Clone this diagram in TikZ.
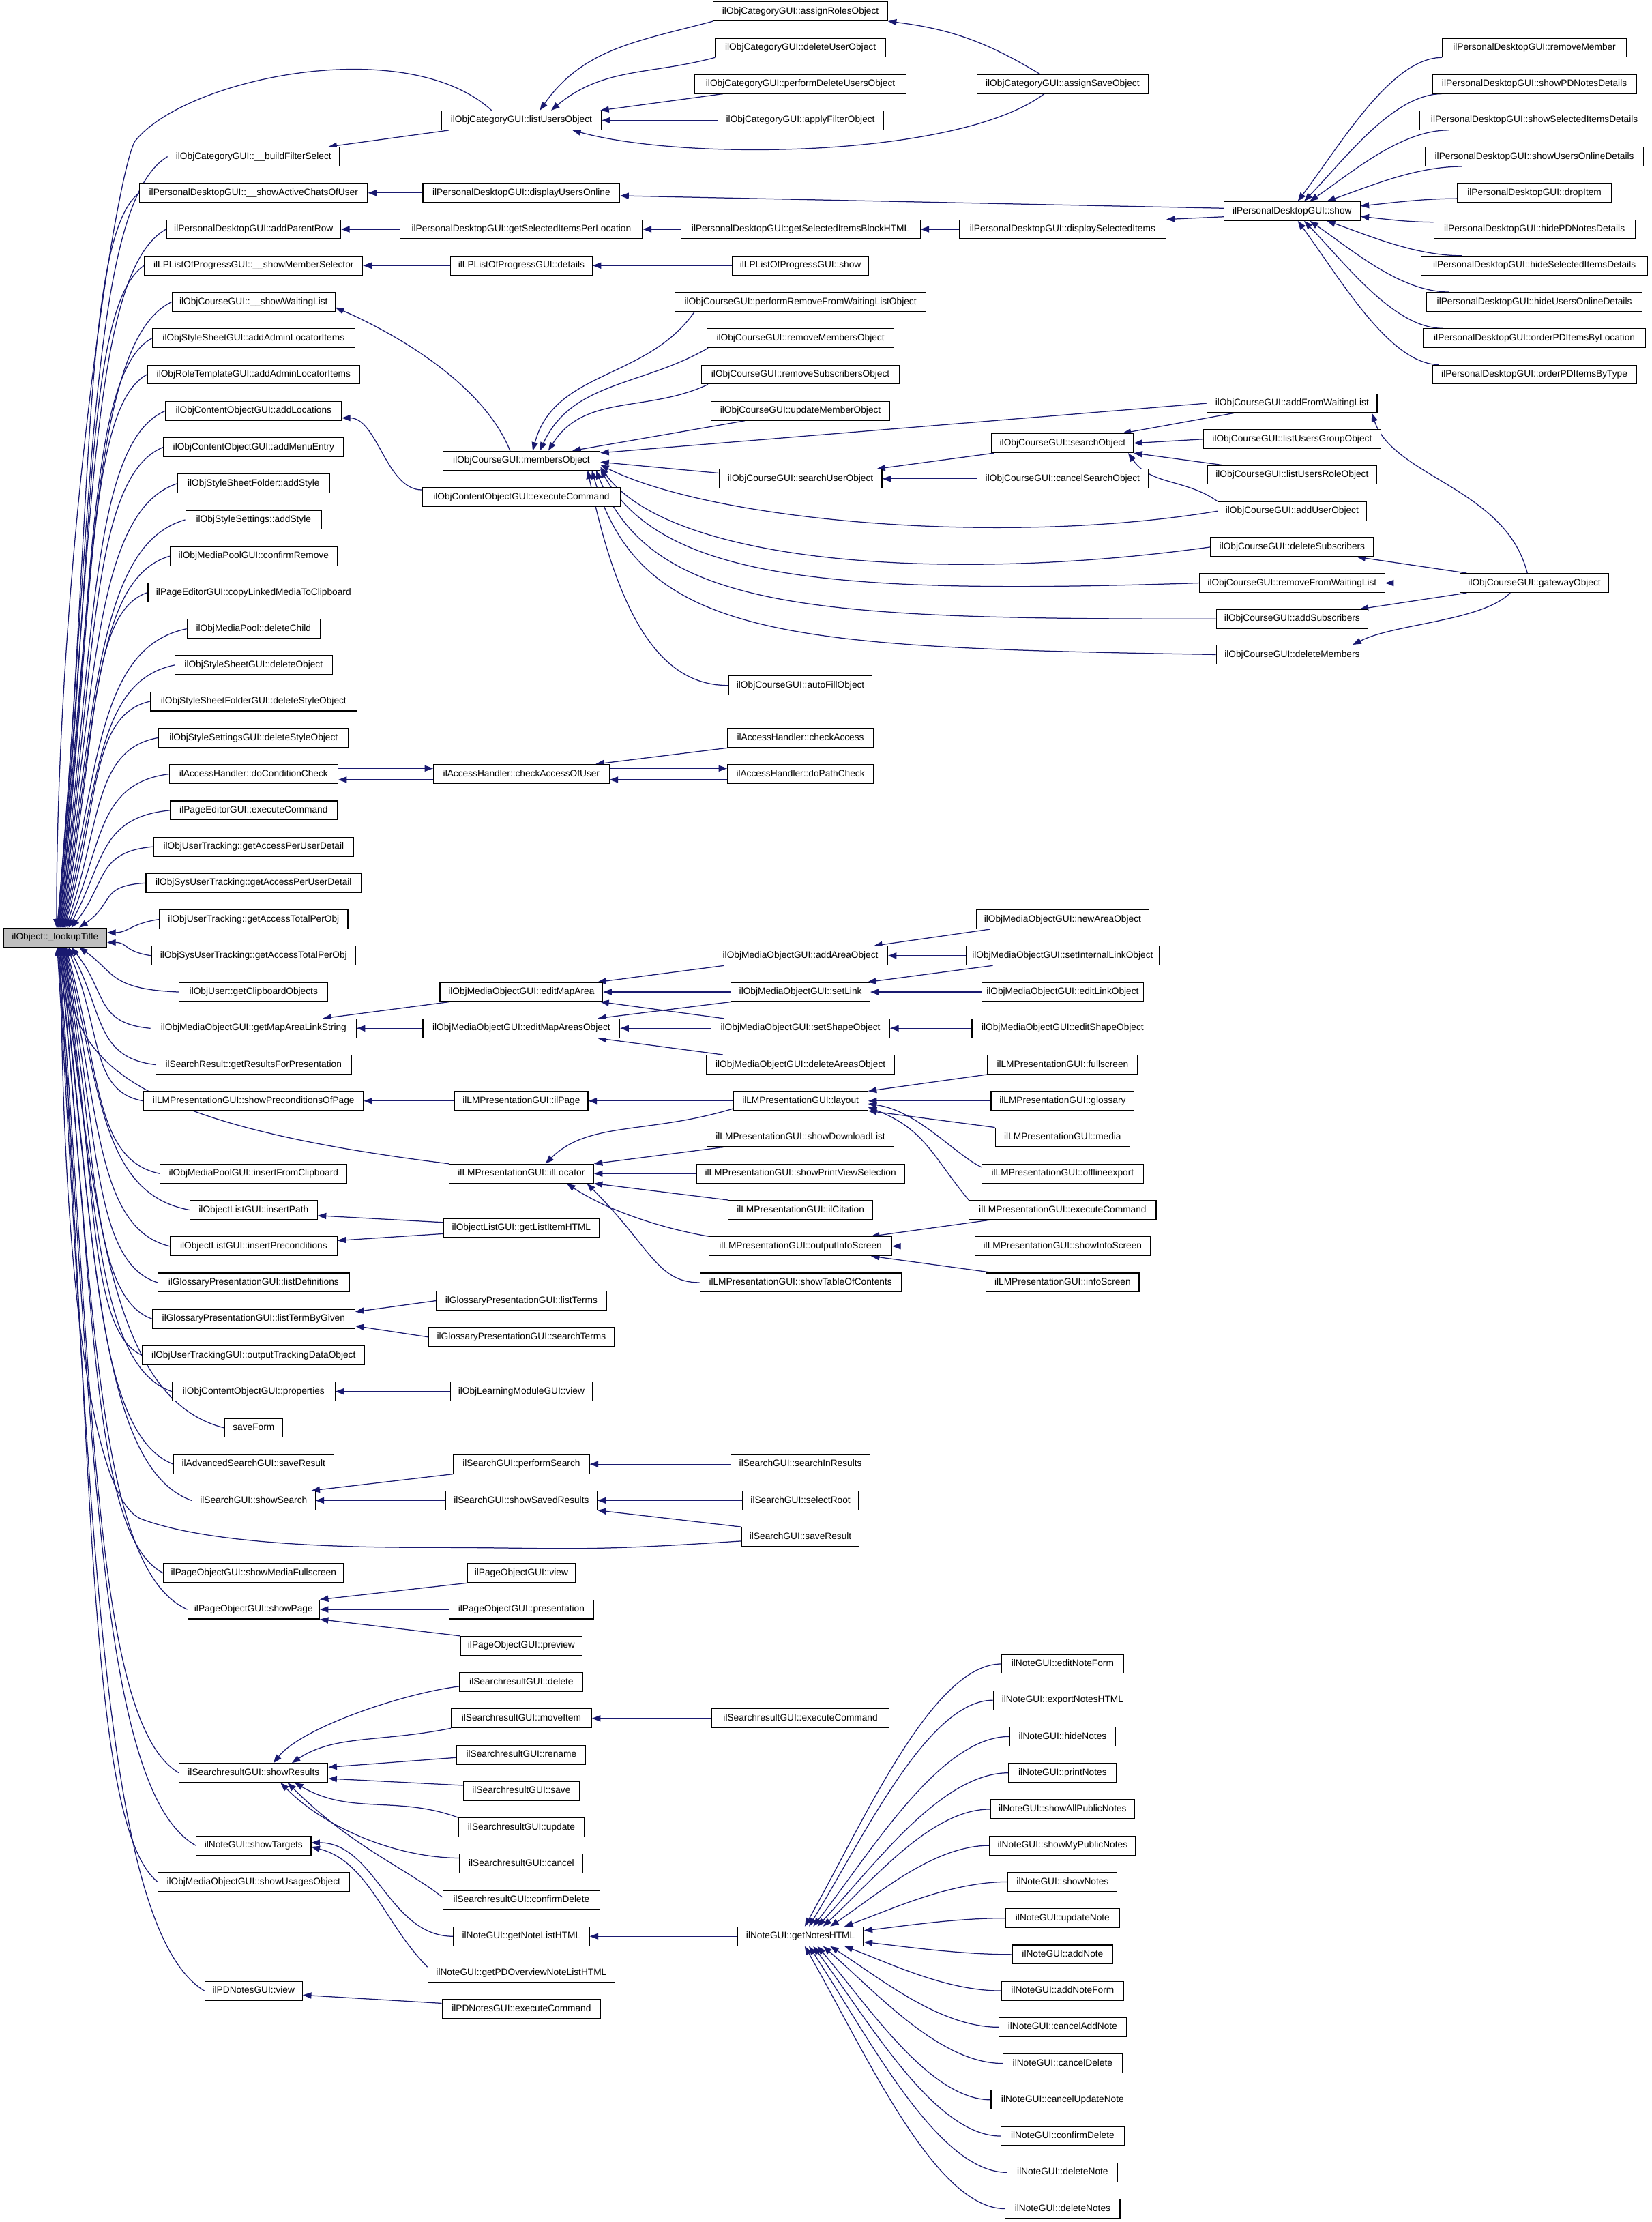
\documentclass[tikz,border=0pt]{standalone}
\usepackage{fontspec}
\setmainfont{Liberation Sans}
\usetikzlibrary{arrows.meta,calc}
\pgfdeclarelayer{bg}
\pgfsetlayers{bg,main}
\definecolor{edgeblue}{HTML}{191970}
\definecolor{rootgray}{HTML}{BFBFBF}

\begin{document}
\begin{tikzpicture}[
  x=1pt, y=1pt,
  fn/.style={draw=black, fill=white, line width=0.55pt, inner xsep=1pt, inner ysep=0pt,
    minimum height=13.4pt, text height=4.8pt, text depth=1.3pt, font=\fontsize{6.6}{7.5}\selectfont},
  call/.style={draw=edgeblue, line width=0.6pt, -{Triangle[length=6pt,width=4.4pt]}}
]
\useasboundingbox (0,0) rectangle (1166,-1568);

\node[fn, fill=rootgray, minimum width=73] (lookup) at (38.9,{-8-25.63*25.5}) {ilObject::\_lookupTitle};

\foreach \nm/\kk/\w/\tx in {
  bfs/4/121/{ilObjCategoryGUI::\_\_buildFilterSelect},
  sacu/5/161/{ilPersonalDesktopGUI::\_\_showActiveChatsOfUser},
  apr/6/123/{ilPersonalDesktopGUI::addParentRow},
  sms/7/154/{ilLPListOfProgressGUI::\_\_showMemberSelector},
  swl/8/115/{ilObjCourseGUI::\_\_showWaitingList},
  ssaali/9/143/{ilObjStyleSheetGUI::addAdminLocatorItems},
  rtaali/10/150/{ilObjRoleTemplateGUI::addAdminLocatorItems},
  coal/11/124/{ilObjContentObjectGUI::addLocations},
  come/12/127/{ilObjContentObjectGUI::addMenuEntry},
  ssfas/13/107/{ilObjStyleSheetFolder::addStyle},
  ssas/14/96/{ilObjStyleSettings::addStyle},
  mpcr/15/118/{ilObjMediaPoolGUI::confirmRemove},
  pecl/16/149/{ilPageEditorGUI::copyLinkedMediaToClipboard},
  mpdc/17/94/{ilObjMediaPool::deleteChild},
  ssdo/18/111/{ilObjStyleSheetGUI::deleteObject},
  ssfdso/19/146/{ilObjStyleSheetFolderGUI::deleteStyleObject},
  ssgdso/20/134/{ilObjStyleSettingsGUI::deleteStyleObject},
  dcc/21/119/{ilAccessHandler::doConditionCheck},
  peec/22/118/{ilPageEditorGUI::executeCommand},
  utapud/23/141/{ilObjUserTracking::getAccessPerUserDetail},
  sutapud/24/152/{ilObjSysUserTracking::getAccessPerUserDetail},
  utatpo/25/133/{ilObjUserTracking::getAccessTotalPerObj},
  sutatpo/26/144/{ilObjSysUserTracking::getAccessTotalPerObj},
  ugco/27/105/{ilObjUser::getClipboardObjects},
  gmals/28/145/{ilObjMediaObjectGUI::getMapAreaLinkString},
  srgrp/29/138/{ilSearchResult::getResultsForPresentation},
  spop/30/155/{ilLMPresentationGUI::showPreconditionsOfPage},
  mpifc/32/132/{ilObjMediaPoolGUI::insertFromClipboard},
  olip/33/90/{ilObjectListGUI::insertPath},
  olipc/34/118/{ilObjectListGUI::insertPreconditions},
  gpld/35/135/{ilGlossaryPresentationGUI::listDefinitions},
  gpltbg/36/143/{ilGlossaryPresentationGUI::listTermByGiven},
  utgotdo/37/157/{ilObjUserTrackingGUI::outputTrackingDataObject},
  cop/38/115/{ilObjContentObjectGUI::properties},
  sf/39/41/{saveForm},
  assr/40/113/{ilAdvancedSearchGUI::saveResult},
  sgss/41/87/{ilSearchGUI::showSearch},
  posmf/43/127/{ilPageObjectGUI::showMediaFullscreen},
  posp/44/93/{ilPageObjectGUI::showPage},
  srsr/48.5/105/{ilSearchresultGUI::showResults},
  nst/50.5/81/{ilNoteGUI::showTargets},
  mosuo/51.5/135/{ilObjMediaObjectGUI::showUsagesObject},
  pdnv/54.5/69/{ilPDNotesGUI::view}}
  \node[fn, minimum width=\w] (\nm) at (179,{-8-25.63*\kk}) {\tx};

\foreach \nm/\kk/\w/\tx in {
  cluo/3/113/{ilObjCategoryGUI::listUsersObject},
  pdduo/5/139/{ilPersonalDesktopGUI::displayUsersOnline},
  pdgsipl/6/171/{ilPersonalDesktopGUI::getSelectedItemsPerLocation},
  lpd/7/100/{ilLPListOfProgressGUI::details},
  cmo/12.37/111/{ilObjCourseGUI::membersObject},
  coec/13.37/140/{ilObjContentObjectGUI::executeCommand},
  caou/21/124/{ilAccessHandler::checkAccessOfUser},
  moema/27/115/{ilObjMediaObjectGUI::editMapArea},
  moemao/28/139/{ilObjMediaObjectGUI::editMapAreasObject},
  lmpip/30/94/{ilLMPresentationGUI::ilPage},
  lmpil/32/102/{ilLMPresentationGUI::ilLocator},
  olglih/33.5/110/{ilObjectListGUI::getListItemHTML},
  gplt/35.5/120/{ilGlossaryPresentationGUI::listTerms},
  gpst/36.5/131/{ilGlossaryPresentationGUI::searchTerms},
  lmgv/38/100/{ilObjLearningModuleGUI::view},
  sgps/40/96/{ilSearchGUI::performSearch},
  sgssr/41/107/{ilSearchGUI::showSavedResults},
  pov/43/76/{ilPageObjectGUI::view},
  pop/44/102/{ilPageObjectGUI::presentation},
  popv/45/86/{ilPageObjectGUI::preview},
  srd/46/87/{ilSearchresultGUI::delete},
  srmi/47/99/{ilSearchresultGUI::moveItem},
  srrn/48/91/{ilSearchresultGUI::rename},
  srsv/49/82/{ilSearchresultGUI::save},
  srup/50/89/{ilSearchresultGUI::update},
  srcn/51/87/{ilSearchresultGUI::cancel},
  srcd/52/111/{ilSearchresultGUI::confirmDelete},
  ngnlh/53/96/{ilNoteGUI::getNoteListHTML},
  ngpdo/54/132/{ilNoteGUI::getPDOverviewNoteListHTML},
  pdnec/55/112/{ilPDNotesGUI::executeCommand}}
  \node[fn, minimum width=\w] (\nm) at (368,{-8-25.63*\kk}) {\tx};

\foreach \nm/\kk/\w/\tx in {
  cgaro/0/123/{ilObjCategoryGUI::assignRolesObject},
  cgduo/1/120/{ilObjCategoryGUI::deleteUserObject},
  cgpduo/2/149/{ilObjCategoryGUI::performDeleteUsersObject},
  cgafo/3/117/{ilObjCategoryGUI::applyFilterObject},
  pdgsibh/6/169/{ilPersonalDesktopGUI::getSelectedItemsBlockHTML},
  lps/7/96/{ilLPListOfProgressGUI::show},
  cprf/8/177/{ilObjCourseGUI::performRemoveFromWaitingListObject},
  crmo/9/132/{ilObjCourseGUI::removeMembersObject},
  crso/10/140/{ilObjCourseGUI::removeSubscribersObject},
  cumo/11/126/{ilObjCourseGUI::updateMemberObject},
  csuo/12.87/115/{ilObjCourseGUI::searchUserObject},
  cafo/18.56/101/{ilObjCourseGUI::autoFillObject},
  ahca/20/103/{ilAccessHandler::checkAccess},
  ahdpc/21/103/{ilAccessHandler::doPathCheck},
  moaao/26/123/{ilObjMediaObjectGUI::addAreaObject},
  mosl/27/98/{ilObjMediaObjectGUI::setLink},
  mosso/28/126/{ilObjMediaObjectGUI::setShapeObject},
  modao/29/133/{ilObjMediaObjectGUI::deleteAreasObject},
  lpl/30/95/{ilLMPresentationGUI::layout},
  lpsdl/31/132/{ilLMPresentationGUI::showDownloadList},
  lpspvs/32/147/{ilLMPresentationGUI::showPrintViewSelection},
  lpic/33/102/{ilLMPresentationGUI::ilCitation},
  lpois/34/129/{ilLMPresentationGUI::outputInfoScreen},
  lpstoc/35/142/{ilLMPresentationGUI::showTableOfContents},
  sgsir/40/98/{ilSearchGUI::searchInResults},
  sgsro/41/82/{ilSearchGUI::selectRoot},
  sgsvr/42/83/{ilSearchGUI::saveResult},
  srec/47/125/{ilSearchresultGUI::executeCommand},
  ngnh/53/89/{ilNoteGUI::getNotesHTML}}
  \node[fn, minimum width=\w] (\nm) at (565,{-8-25.63*\kk}) {\tx};

\foreach \nm/\kk/\w/\tx in {
  cgaso/2/121/{ilObjCategoryGUI::assignSaveObject},
  pddsi/6/146/{ilPersonalDesktopGUI::displaySelectedItems},
  cso/11.89/100/{ilObjCourseGUI::searchObject},
  ccso/12.87/121/{ilObjCourseGUI::cancelSearchObject},
  monao/25/122/{ilObjMediaObjectGUI::newAreaObject},
  mosilo/26/136/{ilObjMediaObjectGUI::setInternalLinkObject},
  moelo/27/114/{ilObjMediaObjectGUI::editLinkObject},
  meso/28/128/{ilObjMediaObjectGUI::editShapeObject},
  lpfs/29/106/{ilLMPresentationGUI::fullscreen},
  lpgl/30/101/{ilLMPresentationGUI::glossary},
  lpme/31/95/{ilLMPresentationGUI::media},
  lpoe/32/114/{ilLMPresentationGUI::offlineexport},
  lpec/33/132/{ilLMPresentationGUI::executeCommand},
  lpsis/34/124/{ilLMPresentationGUI::showInfoScreen},
  lpis/35/108/{ilLMPresentationGUI::infoScreen}}
  \node[fn, minimum width=\w] (\nm) at (750,{-8-25.63*\kk}) {\tx};

\foreach \nm/\w/\tx [count=\ii from 0] in {
  nef/86/{ilNoteGUI::editNoteForm},
  nenh/98/{ilNoteGUI::exportNotesHTML},
  nhn/75/{ilNoteGUI::hideNotes},
  npn/76/{ilNoteGUI::printNotes},
  nsapn/102/{ilNoteGUI::showAllPublicNotes},
  nsmpn/103/{ilNoteGUI::showMyPublicNotes},
  nsn/77/{ilNoteGUI::showNotes},
  nun/80/{ilNoteGUI::updateNote},
  nan/71/{ilNoteGUI::addNote},
  nanf/86/{ilNoteGUI::addNoteForm},
  ncan/90/{ilNoteGUI::cancelAddNote},
  ncd/84/{ilNoteGUI::cancelDelete},
  ncun/101/{ilNoteGUI::cancelUpdateNote},
  ncfd/87/{ilNoteGUI::confirmDelete},
  ndn/78/{ilNoteGUI::deleteNote},
  ndns/81/{ilNoteGUI::deleteNotes}}
  \node[fn, minimum width=\w] (\nm) at (750,{-8-25.63*(45.5+\ii)}) {\tx};

\foreach \nm/\kk/\w/\tx in {
  pds/5.5/96/{ilPersonalDesktopGUI::show},
  cafwl/10.79/120/{ilObjCourseGUI::addFromWaitingList},
  clugo/11.78/125/{ilObjCourseGUI::listUsersGroupObject},
  cluro/12.76/119/{ilObjCourseGUI::listUsersRoleObject},
  cauo/13.76/105/{ilObjCourseGUI::addUserObject},
  cds/14.75/115/{ilObjCourseGUI::deleteSubscribers},
  crfwl/15.74/131/{ilObjCourseGUI::removeFromWaitingList},
  cas/16.73/107/{ilObjCourseGUI::addSubscribers},
  cdm/17.71/107/{ilObjCourseGUI::deleteMembers}}
  \node[fn, minimum width=\w] (\nm) at (912,{-8-25.63*\kk}) {\tx};

\foreach \nm/\kk/\w/\tx in {
  pdrm/1/130/{ilPersonalDesktopGUI::removeMember},
  pdspn/2/144/{ilPersonalDesktopGUI::showPDNotesDetails},
  pdssi/3/162/{ilPersonalDesktopGUI::showSelectedItemsDetails},
  pdsuo/4/154/{ilPersonalDesktopGUI::showUsersOnlineDetails},
  pddi/5/109/{ilPersonalDesktopGUI::dropItem},
  pdhpn/6/142/{ilPersonalDesktopGUI::hidePDNotesDetails},
  pdhsi/7/160/{ilPersonalDesktopGUI::hideSelectedItemsDetails},
  pdhuo/8/152/{ilPersonalDesktopGUI::hideUsersOnlineDetails},
  pdol/9/157/{ilPersonalDesktopGUI::orderPDItemsByLocation},
  pdot/10/144/{ilPersonalDesktopGUI::orderPDItemsByType},
  cggo/15.74/105/{ilObjCourseGUI::gatewayObject}}
  \node[fn, minimum width=\w] (\nm) at (1083,{-8-25.63*\kk}) {\tx};

\begin{pgfonlayer}{bg}
\fill[white] (0,0) rectangle (1166,-1568);

\foreach \nm/\dx/\an in {bfs/1.5/north, sacu/1.5/north, apr/1.5/north, sms/2/north, swl/2/north,
  ssaali/2.5/north, rtaali/2.5/north, coal/3/north, come/3.5/north, ssfas/3.5/north, ssas/4/north,
  mpcr/4.5/north, pecl/5/north, mpdc/5.5/north, ssdo/6/north, ssfdso/6.5/north, ssgdso/7.5/north,
  dcc/8.5/north, peec/9.5/north, utapud/11.5/north, sutapud/17/north, ugco/17/south, gmals/11.5/south,
  srgrp/9.5/south, spop/8.5/south, mpifc/7.5/south, olip/7/south, olipc/6.5/south, gpld/6/south,
  gpltbg/5.5/south, utgotdo/5/south, cop/4.5/south, sf/4/south, assr/3.5/south, sgss/3.5/south,
  posmf/3/south, posp/3/south, srsr/2.5/south, nst/2/south, mosuo/2/south, pdnv/1.5/south}
  \draw[call] let \p1=(\nm.west), \p2=([xshift=\dx]lookup.\an) in
    (\p1) .. controls ({\x1-0.7*(\x1-\x2)},{\y1-0.06*(\y1-\y2)}) and ({\x2+25pt},{\y2+0.55*(\y1-\y2)}) .. (\p2);
\draw[call] ([xshift=-21]cluo.north) .. controls +(-60,55) and +(35,45) .. (95,-100)
  .. controls +(-15,-30) and +(0,250) .. ([xshift=1]lookup.north);
\draw[call] (lmpil.north west) .. controls (80,-792) and (48,-745) .. ([xshift=8]lookup.south);
\draw[call] ([yshift=-3]sgsvr.west) .. controls +(-120,-8) and +(100,0) .. (300,-1092)
  .. controls (200,-1092) and (135,-1085) .. (100,-1072)
  .. controls (65,-1059) and (44,-900) .. ([xshift=4]lookup.south);
\draw[call] (utatpo.west) .. controls +(-20,-3) and +(15,0) .. ([yshift=3.5]lookup.east);
\draw[call] (sutatpo.west) .. controls +(-20,3) and +(15,0) .. ([yshift=-3.5]lookup.east);

\draw[call] ([xshift=6]cluo.south west) -- ([xshift=-8]bfs.north east);
\draw[call] (cgaro.south west) to[out=195,in=55] ([xshift=13]cluo.north);
\draw[call] (cgduo.south west) to[out=195,in=40] ([xshift=21]cluo.north);
\draw[call] ([xshift=20]cgpduo.south west) -- ([xshift=-1]cluo.north east);
\draw[call] (cgafo.west) -- (cluo.east);
\draw[call] ([xshift=-13]cgaso.south) .. controls +(-60,-45) and +(80,-22) .. ([xshift=36]cluo.south);
\draw[call] ([xshift=-16]cgaso.north) to[bend right=12] (cgaro.south east);

\draw[call] (pdduo.west) -- (sacu.east);
\draw[call] ([yshift=2]pds.west) -- ([yshift=-2]pdduo.east);
\draw[call] ([yshift=-4]pds.west) -- (pddsi.north east);
\draw[call] (pdgsipl.west) -- (apr.east);
\draw[call] (pdgsibh.west) -- (pdgsipl.east);
\draw[call] (pddsi.west) -- (pdgsibh.east);
\foreach \nm/\sa/\ssx/\ssy/\an/\sx/\sy in {pdrm/south west/0/0/north/4/0, pdspn/south west/7/0/north/8.5/0,
  pdssi/south west/21/0/north/12.5/0, pdsuo/south west/26/0/north/24.5/0, pddi/west/0/-4/east/0/3.6,
  pdhpn/west/0/5/east/0/-3.8, pdhsi/north west/29/0/south/24.5/0, pdhuo/north west/16/0/south/12.5/0,
  pdol/north west/14/0/south/8.5/0, pdot/north west/5/0/south/4/0}
  \draw[call] let \p1=([shift={(\ssx,\ssy)}]\nm.\sa), \p2=([shift={(\sx,\sy)}]pds.\an) in
    (\p1) .. controls ({\x1-0.35*(\x1-\x2)},\y1) and ({\x2+0.3*(\x1-\x2)},{\y2+0.4*(\y1-\y2)}) .. (\p2);

\draw[call] (lpd.west) -- (sms.east);
\draw[call] (lps.west) -- (lpd.east);

\draw[call] ([xshift=-8]cmo.north) .. controls +(-20,50) and +(35,-15) .. ([yshift=-4]swl.east);
\draw[call] ([yshift=5]coec.west) .. controls +(-25,0) and +(25,0) .. ([yshift=-5]coal.east);
\draw[call] ([xshift=14]cprf.south west) to[out=235,in=75] ([xshift=8]cmo.north);
\draw[call] ([xshift=1]crmo.south west) to[out=210,in=65] ([xshift=13]cmo.north);
\draw[call] ([xshift=5]crso.south west) to[out=205,in=58] ([xshift=19]cmo.north);
\draw[call] ([xshift=24]cumo.south west) -- ([xshift=36]cmo.north);
\draw[call] (cafwl.west) -- ([yshift=-1.5]cmo.north east);
\draw[call] ([yshift=4]csuo.west) -- ([yshift=-1]cmo.east);
\draw[call] (cauo.west) .. controls +(-150,-25) and +(80,-40) .. ([yshift=-3]cmo.east);
\draw[call] (cds.west) .. controls +(-180,-25) and +(50,-70) .. ([yshift=-4.5]cmo.east);
\draw[call] (crfwl.west) .. controls +(-250,-8) and +(45,-80) .. ([yshift=-6]cmo.east);
\draw[call] (cas.west) .. controls +(-280,0) and +(40,-100) .. ([xshift=-3]cmo.south east);
\draw[call] (cdm.west) .. controls +(-300,5) and +(35,-120) .. ([xshift=-6]cmo.south east);
\draw[call] (cafo.west) .. controls +(-40,0) and +(25,-120) .. ([xshift=-9]cmo.south east);
\draw[call] ([xshift=2]cso.south west) -- ([xshift=-4]csuo.north east);
\draw[call] (ccso.west) -- (csuo.east);
\draw[call] ([xshift=19]cafwl.south west) -- ([xshift=-8]cso.north east);
\draw[call] (clugo.west) -- (cso.east);
\draw[call] ([xshift=10]cluro.north west) -- (cso.south east);
\draw[call] (cauo.north west) to[out=145,in=-55] ([xshift=-4]cso.south east);
\draw[call] ([xshift=-5]cggo.north) .. controls +(-15,60) and +(15,-45) .. ([xshift=-4]cafwl.south east);
\draw[call] ([xshift=5]cggo.north west) -- ([xshift=-12]cds.south east);
\draw[call] (cggo.west) -- (crfwl.east);
\draw[call] ([xshift=5]cggo.south west) -- ([xshift=-6]cas.north east);
\draw[call] ([xshift=-17]cggo.south) .. controls +(-20,-20) and +(30,15) .. ([xshift=-11]cdm.north east);

\draw[call] ([yshift=4]dcc.east) -- ([yshift=4]caou.west);
\draw[call] ([yshift=-4]caou.west) -- ([yshift=-4]dcc.east);
\draw[call] ([yshift=4]caou.east) -- ([yshift=4]ahdpc.west);
\draw[call] ([yshift=-4]ahdpc.west) -- ([yshift=-4]caou.east);
\draw[call] ([xshift=2]ahca.south west) -- ([xshift=-10]caou.north east);

\draw[call] ([xshift=7]moema.south west) -- ([xshift=-24]gmals.north east);
\draw[call] (moemao.west) -- (gmals.east);
\draw[call] ([xshift=8]moaao.south west) -- ([xshift=-4]moema.north east);
\draw[call] (mosl.west) -- (moema.east);
\draw[call] ([xshift=9]mosso.north west) -- ([xshift=-2]moema.south east);
\draw[call] (mosl.south west) -- ([xshift=-16]moemao.north east);
\draw[call] (mosso.west) -- (moemao.east);
\draw[call] ([xshift=12]modao.north west) -- ([xshift=-16]moemao.south east);
\draw[call] ([xshift=10]monao.south west) -- ([xshift=-10]moaao.north east);
\draw[call] (mosilo.west) -- (moaao.east);
\draw[call] ([xshift=19]mosilo.south west) -- ([xshift=-2]mosl.north east);
\draw[call] (moelo.west) -- (mosl.east);
\draw[call] (meso.west) -- (mosso.east);

\draw[call] (lmpip.west) -- (spop.east);
\draw[call] (lpl.west) -- (lmpip.east);
\draw[call] ([yshift=-5.5]lpl.west) .. controls +(-60,-18) and +(30,30) .. ([xshift=17]lmpil.north);
\draw[call] ([xshift=12]lpsdl.south west) -- (lmpil.north east);
\draw[call] (lpspvs.west) -- (lmpil.east);
\draw[call] (lpic.north west) -- (lmpil.south east);
\draw[call] (lpois.north west) .. controls +(-30,5) and +(30,-20) .. ([xshift=32]lmpil.south);
\draw[call] (lpstoc.west) .. controls +(-30,0) and +(45,-45) .. ([xshift=-5]lmpil.south east);
\draw[call] (lpfs.south west) -- (lpl.north east);
\draw[call] (lpgl.west) -- (lpl.east);
\draw[call] (lpme.north west) -- (lpl.south east);
\draw[call] ([yshift=4.5]lpoe.west) .. controls +(-20,10) and +(35,-5) .. ([yshift=-2]lpl.east);
\draw[call] (lpec.north west) .. controls +(-25,30) and +(40,-15) .. ([yshift=-4.5]lpl.east);
\draw[call] ([xshift=16]lpec.south west) -- ([xshift=-15]lpois.north east);
\draw[call] (lpsis.west) -- (lpois.east);
\draw[call] ([xshift=5]lpis.north west) -- ([xshift=-15]lpois.south east);

\draw[call] ([yshift=4]olglih.west) -- ([yshift=-4]olip.east);
\draw[call] ([yshift=-4]olglih.west) -- ([yshift=4]olipc.east);
\draw[call] (gplt.west) -- ([yshift=5]gpltbg.east);
\draw[call] (gpst.west) -- ([yshift=-5]gpltbg.east);
\draw[call] (lmgv.west) -- (cop.east);

\draw[call] (sgps.south west) -- ([xshift=-3]sgss.north east);
\draw[call] (sgssr.west) -- (sgss.east);
\draw[call] (sgsir.west) -- (sgps.east);
\draw[call] (sgsro.west) -- (sgssr.east);
\draw[call] (sgsvr.north west) -- (sgssr.south east);
\draw[call] (pov.south west) -- (posp.north east);
\draw[call] (pop.west) -- (posp.east);
\draw[call] (popv.north west) -- (posp.south east);

\draw[call] ([yshift=-3]srd.west) .. controls +(-40,-5) and +(20,25) .. ([xshift=14]srsr.north);
\draw[call] (srmi.south west) .. controls +(-50,-10) and +(30,20) .. ([xshift=27]srsr.north);
\draw[call] ([yshift=-2]srrn.west) -- ([yshift=4]srsr.east);
\draw[call] ([yshift=4]srsv.west) -- ([yshift=-4]srsr.east);
\draw[call] (srup.north west) to[out=160,in=-30] ([xshift=29]srsr.south);
\draw[call] ([yshift=4]srcn.west) .. controls +(-40,0) and +(35,-35) .. ([xshift=19]srsr.south);
\draw[call] ([yshift=2]srcd.west) .. controls +(-25,20) and +(45,-45) .. ([xshift=24]srsr.south);
\draw[call] (srec.west) -- (srmi.east);
\draw[call] (ngnlh.west) .. controls +(-45,0) and +(45,0) .. ([yshift=2]nst.east);
\draw[call] ([yshift=4]ngpdo.west) .. controls +(-30,30) and +(40,-10) .. ([yshift=-1]nst.east);
\draw[call] (ngnh.west) -- (ngnlh.east);
\draw[call] ([yshift=4]pdnec.west) -- ([yshift=-3]pdnv.east);

\foreach \nm/\an/\sx/\sy in {nef/north/3/0, nenh/north/6/0, nhn/north/9/0, npn/north/12/0,
  nsapn/north/16/0, nsmpn/north/21/0, nsn/north/31/0, nun/east/0/4, nan/east/0/-4,
  nanf/south/31/0, ncan/south/21/0, ncd/south/16/0, ncun/south/12/0, ncfd/south/9/0,
  ndn/south/6/0, ndns/south/3/0}
  \draw[call] let \p1=(\nm.west), \p2=([shift={(\sx,\sy)}]ngnh.\an) in
    (\p1) .. controls ({\x1-0.35*(\x1-\x2)},\y1) and ({\x2+0.3*(\x1-\x2)},{\y2+0.4*(\y1-\y2)}) .. (\p2);
\end{pgfonlayer}
\end{tikzpicture}
\end{document}
